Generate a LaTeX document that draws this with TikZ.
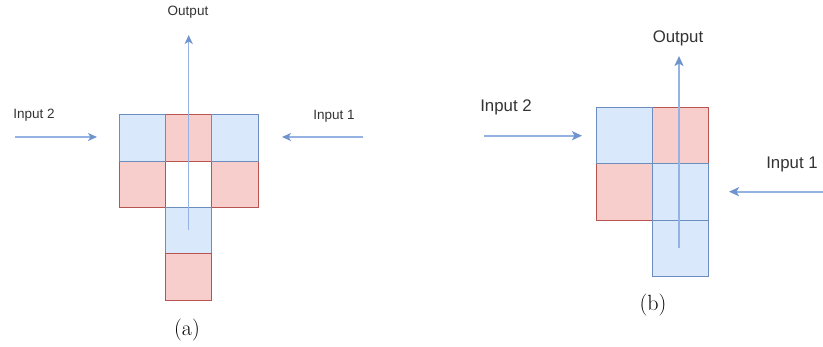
\documentclass[tikz,border=0pt]{standalone}
\usepackage{fontspec}
\newfontfamily\sansfont{Liberation Sans}
\usetikzlibrary{arrows.meta}
\definecolor{bluefill}{HTML}{DAE8FC}
\definecolor{bluestroke}{HTML}{6C8EBF}
\definecolor{redfill}{HTML}{F8CECC}
\definecolor{redstroke}{HTML}{B85450}
\definecolor{flowline}{HTML}{94B3E3}
\definecolor{flowtip}{HTML}{6F93CC}
\definecolor{labeltext}{HTML}{333333}
\tikzset{
  cellA/.style={minimum size=46.3pt, inner sep=0pt, line width=1pt},
  cellB/.style={minimum size=56.2pt, inner sep=0pt, line width=1pt},
  bluecell/.style={draw=bluestroke, fill=bluefill},
  redcell/.style={draw=redstroke, fill=redfill},
  flowA/.style={draw=flowline, line width=1.5pt, -{Stealth[length=9pt, width=8pt, inset=2.5pt, color=flowtip]}},
  flowB/.style={draw=flowline, line width=1.9pt, -{Stealth[length=10pt, width=9pt, inset=2.5pt, color=flowtip]}},
  smalltext/.style={font=\sansfont\fontsize{13.5}{15}\selectfont, text=labeltext, inner sep=0pt},
  bigtext/.style={font=\sansfont\fontsize{16.8}{19}\selectfont, text=labeltext, inner sep=0pt},
  caption/.style={font=\fontsize{22}{24}\selectfont, inner sep=0pt}
}
\begin{document}
\begin{tikzpicture}[x=1pt, y=-1pt]
\useasboundingbox (0,0) rectangle (823,347);

% ---- layout (a): T-shaped arrangement ----
\node[cellA, redcell]  (a12) at (188.75,138.15) {};
\node[cellA, redcell]  (a21) at (142.45,184.45) {};
\node[cellA, redcell]  (a23) at (235.05,184.45) {};
\node[cellA, bluecell] (a11) at (142.45,138.15) {};
\node[cellA, bluecell] (a13) at (235.05,138.15) {};
\node[cellA, bluecell] (a32) at (188.75,230.75) {};
\node[cellA, redcell]  (a42) at (188.75,277.05) {};

\coordinate (aOutStart) at (188.7,230);
\coordinate (aOutEnd)   at (188.7,35);
\coordinate (aIn1Start) at (363,137);
\coordinate (aIn1End)   at (282,137);
\coordinate (aIn2Start) at (15,137);
\coordinate (aIn2End)   at (97,137);

\draw[flowA] (aOutStart) -- (aOutEnd);
\draw[flowA] (aIn1Start) -- (aIn1End);
\draw[flowA] (aIn2Start) -- (aIn2End);

\node[smalltext] (aOut) at (188,12) {Output};
\node[smalltext] (aIn1) at (334,116) {Input 1};
\node[smalltext] (aIn2) at (34,115) {Input 2};
\node[caption]   (capA) at (187,330) {(a)};

% ---- layout (b): stepped arrangement ----
\node[cellB, redcell]  (b12) at (680.4,135.8) {};
\node[cellB, redcell]  (b21) at (624.1,192.0) {};
\node[cellB, bluecell] (b11) at (624.1,135.8) {};
\node[cellB, bluecell] (b22) at (680.4,192.0) {};
\node[cellB, bluecell] (b32) at (680.4,248.2) {};

\coordinate (bOutStart) at (679,248);
\coordinate (bOutEnd)   at (679,56);
\coordinate (bIn1Start) at (823,191.7);
\coordinate (bIn1End)   at (729,191.7);
\coordinate (bIn2Start) at (484,135.7);
\coordinate (bIn2End)   at (582,135.7);

\draw[flowB] (bOutStart) -- (bOutEnd);
\draw[flowB] (bIn1Start) -- (bIn1End);
\draw[flowB] (bIn2Start) -- (bIn2End);

\node[bigtext] (bOut) at (678,38) {Output};
\node[bigtext] (bIn1) at (792,164) {Input 1};
\node[bigtext] (bIn2) at (506,107) {Input 2};
\node[caption] (capB) at (653,305) {(b)};
\end{tikzpicture}
\end{document}
